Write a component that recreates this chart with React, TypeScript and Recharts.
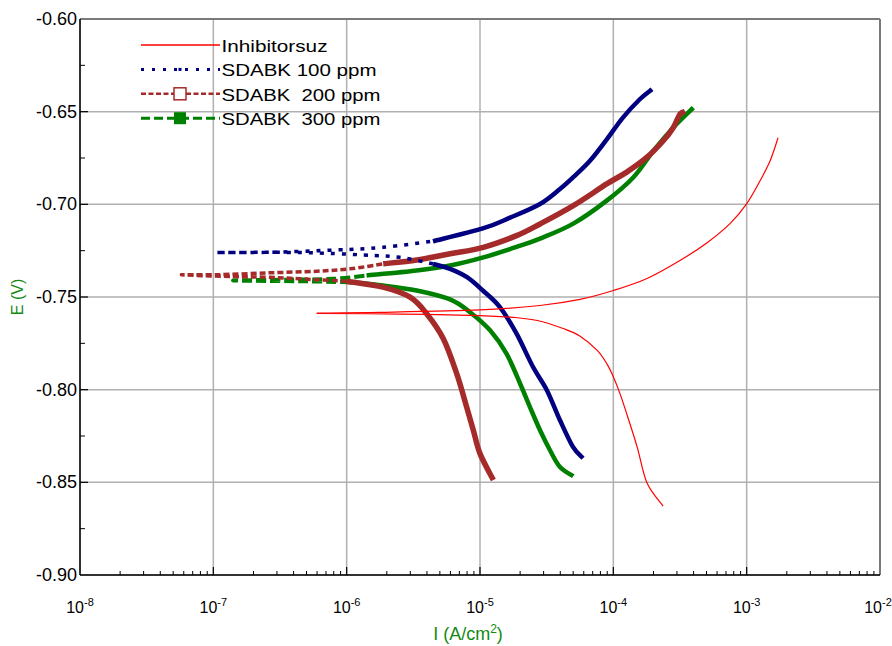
import React from 'react';
import { LineChart, Line, XAxis, YAxis, CartesianGrid, ReferenceLine, Legend } from 'recharts';

// current density (A/cm2) and potential (V), each branch starts at Ecorr
const redCathodicI = [5.96e-7, 2.51e-6, 1.0e-5, 1.78e-5, 2.69e-5, 4.2e-5, 5.6e-5, 7.6e-5, 8.97e-5, 1.0e-4, 1.12e-4, 1.27e-4, 1.51e-4, 1.79e-4, 2.36e-4];
const redCathodicE = [-0.7589, -0.7592, -0.76, -0.761, -0.7627, -0.767, -0.771, -0.7789, -0.7862, -0.793, -0.802, -0.8138, -0.831, -0.8504, -0.8628];
const redAnodicI = [5.96e-7, 1.78e-6, 1.0e-5, 2.82e-5, 5.62e-5, 1.0e-4, 1.79e-4, 3.16e-4, 5.05e-4, 7.5e-4, 9.89e-4, 1.26e-3, 1.5e-3, 1.72e-3];
const redAnodicE = [-0.7587, -0.7583, -0.757, -0.7546, -0.7513, -0.7465, -0.74, -0.7303, -0.7207, -0.7104, -0.7002, -0.6873, -0.6765, -0.6641];

const blueCathodicI = [1.05e-7, 4.47e-7, 1.33e-6, 2.51e-6, 4.44e-6, 5.96e-6, 7.99e-6, 1.05e-5, 1.41e-5, 1.88e-5, 2.5e-5, 3.18e-5, 3.98e-5, 4.98e-5, 5.92e-5];
const blueCathodicE = [-0.726, -0.726, -0.7273, -0.7286, -0.7321, -0.7348, -0.7393, -0.7465, -0.7555, -0.7698, -0.7878, -0.8004, -0.8165, -0.8309, -0.837];
const blueAnodicI = [1.05e-7, 2.53e-7, 8.46e-7, 1.87e-6, 4.44e-6, 1.05e-5, 1.68e-5, 2.82e-5, 3.98e-5, 4.98e-5, 6.68e-5, 8.96e-5, 1.18e-4, 1.58e-4, 1.95e-4];
const blueAnodicE = [-0.726, -0.7259, -0.7246, -0.7232, -0.7199, -0.713, -0.7072, -0.6998, -0.6917, -0.6855, -0.6765, -0.6648, -0.6532, -0.6433, -0.6379];

const brownCathodicI = [5.79e-8, 1.4e-7, 2.51e-7, 4.47e-7, 1.0e-6, 1.87e-6, 2.99e-6, 3.98e-6, 5.31e-6, 6.69e-6, 7.94e-6, 8.91e-6, 1.0e-5, 1.26e-5];
const brownCathodicE = [-0.738, -0.739, -0.7393, -0.7402, -0.7415, -0.7447, -0.7501, -0.759, -0.7725, -0.7914, -0.8094, -0.8219, -0.8345, -0.8488];
const brownAnodicI = [5.79e-8, 1.06e-7, 2.51e-7, 5.96e-7, 1.06e-6, 1.88e-6, 3.35e-6, 5.96e-6, 1.06e-5, 1.88e-5, 2.82e-5, 5.01e-5, 8.92e-5, 1.26e-4, 1.78e-4, 2.37e-4, 2.82e-4, 3.16e-4, 3.45e-4];
const brownAnodicE = [-0.738, -0.738, -0.737, -0.7361, -0.7348, -0.7321, -0.73, -0.7267, -0.7232, -0.7169, -0.7106, -0.7007, -0.689, -0.6826, -0.6747, -0.6657, -0.6585, -0.6513, -0.6499];

const greenCathodicI = [1.41e-7, 4.47e-7, 1.06e-6, 1.88e-6, 3.35e-6, 5.96e-6, 8.41e-6, 1.19e-5, 1.58e-5, 2.0e-5, 2.37e-5, 2.82e-5, 3.35e-5, 3.98e-5, 5.01e-5];
const greenCathodicE = [-0.7411, -0.7415, -0.742, -0.7438, -0.7465, -0.7513, -0.7582, -0.768, -0.7806, -0.7968, -0.8094, -0.8219, -0.8327, -0.8417, -0.8467];
const greenAnodicI = [1.41e-7, 3.33e-7, 7.9e-7, 1.41e-6, 3.35e-6, 5.96e-6, 1.06e-5, 1.88e-5, 2.82e-5, 5.01e-5, 8.92e-5, 1.41e-4, 2.0e-4, 2.82e-4, 3.98e-4];
const greenAnodicE = [-0.7411, -0.7407, -0.7402, -0.7384, -0.7357, -0.733, -0.7286, -0.723, -0.7185, -0.7104, -0.698, -0.6855, -0.6711, -0.6585, -0.6478];

const seriesNames = ['Inhibitorsuz', 'SDABK 100 ppm', 'SDABK  200 ppm', 'SDABK  300 ppm'];

const xTicks = [1e-8, 1e-7, 1e-6, 1e-5, 1e-4, 1e-3, 1e-2];
const yTicks = [-0.9, -0.85, -0.8, -0.75, -0.7, -0.65, -0.6];
const yMinorTicks = [-0.875, -0.825, -0.775, -0.725, -0.675, -0.625];

const FONT = '"Liberation Sans", Arial, Helvetica, sans-serif';
const LABEL_GREEN = '#138a13';

type Pt = { i: number; e: number };
const zip = (is: number[], es: number[]): Pt[] => is.map((v, k) => ({ i: v, e: es[k] }));

// near Ecorr the curves are drawn dashed, the branches solid
function split(pts: Pt[], limit: number) {
  const n = pts.filter((p) => p.i <= limit).length;
  return { core: pts.slice(0, n), tail: pts.slice(Math.max(n - 1, 0)) };
}

// catmull-rom curve factory, smooth through every point (branches run steep and flat)
function smoothCurve(context: any) {
  let pts: [number, number][] = [];
  return {
    areaStart() {},
    areaEnd() {},
    lineStart() {
      pts = [];
    },
    lineEnd() {
      if (!pts.length) return;
      context.moveTo(pts[0][0], pts[0][1]);
      for (let k = 0; k < pts.length - 1; k++) {
        const p0 = pts[Math.max(k - 1, 0)];
        const p1 = pts[k];
        const p2 = pts[k + 1];
        const p3 = pts[Math.min(k + 2, pts.length - 1)];
        context.bezierCurveTo(
          p1[0] + (p2[0] - p0[0]) / 6, p1[1] + (p2[1] - p0[1]) / 6,
          p2[0] - (p3[0] - p1[0]) / 6, p2[1] - (p3[1] - p1[1]) / 6,
          p2[0], p2[1]
        );
      }
    },
    point(x: number, y: number) {
      pts.push([x, y]);
    },
  };
}

const curves = [
  {
    name: seriesNames[0], color: '#ff0000',
    cathodic: zip(redCathodicI, redCathodicE), anodic: zip(redAnodicI, redAnodicE),
    cLimit: 0, aLimit: 0, dash: undefined, coreW: 1.2, tailW: 1.2,
    legDash: undefined, legW: 1.5, marker: 'none', textLen: 106,
  },
  {
    name: seriesNames[1], color: '#000080',
    cathodic: zip(blueCathodicI, blueCathodicE), anodic: zip(blueAnodicI, blueAnodicE),
    cLimit: 5e-6, aLimit: 4.5e-6, dash: '4 7', coreW: 3.5, tailW: 4.5,
    legDash: '3 8', legW: 3, marker: 'dot', textLen: 155,
  },
  {
    name: seriesNames[2], color: '#a52a2a',
    cathodic: zip(brownCathodicI, brownCathodicE), anodic: zip(brownAnodicI, brownAnodicE),
    cLimit: 1.0e-6, aLimit: 2.5e-6, dash: '6 3', coreW: 3.5, tailW: 5.5,
    legDash: '5 2.5', legW: 2.5, marker: 'open', textLen: 159,
  },
  {
    name: seriesNames[3], color: '#008000',
    cathodic: zip(greenCathodicI, greenCathodicE), anodic: zip(greenAnodicI, greenAnodicE),
    cLimit: 1.1e-6, aLimit: 1.5e-6, dash: '10 4', coreW: 4, tailW: 4.5,
    legDash: '9 4', legW: 3, marker: 'filled', textLen: 159,
  },
];

const XTick = (props: any) => {
  const { x, payload } = props;
  const exp = Math.round(Math.log10(payload.value));
  return (
    <text x={x} y={613} textAnchor="middle" fontSize={16} fill="#000" fontFamily={FONT}>
      <tspan>10</tspan>
      <tspan dy={-7} fontSize={11}>{exp}</tspan>
    </text>
  );
};

const YTick = (props: any) => {
  const { y, payload } = props;
  return (
    <text x={77} y={y} textAnchor="end" dominantBaseline="central" fontSize={18} fill="#000" fontFamily={FONT}>
      {payload.value.toFixed(2)}
    </text>
  );
};

const XTitle = () => (
  <text x={468} y={640} textAnchor="middle" fontSize={18} fill={LABEL_GREEN} fontFamily={FONT}>
    I (A/cm<tspan dy={-7} fontSize={12}>2</tspan>
    <tspan dy={7}>)</tspan>
  </text>
);

const YTitle = () => (
  <text x={23} y={297} transform="rotate(-90, 23, 297)" textAnchor="middle" fontSize={16} fill={LABEL_GREEN} fontFamily={FONT}>
    E (V)
  </text>
);

const LegendBox = () => (
  <svg width={262} height={104} style={{ display: 'block', overflow: 'visible' }}>
    {curves.map((c, k) => {
      const ly = 15 + k * 24.4;
      return (
        <g key={c.name}>
          <line x1={11} x2={90} y1={ly} y2={ly} stroke={c.color} strokeWidth={c.legW} strokeDasharray={c.legDash} />
          {c.marker === 'dot' && <rect x={48.5} y={ly - 1.5} width={3} height={3} fill={c.color} />}
          {c.marker === 'open' && <rect x={44} y={ly - 6} width={12} height={12} fill="#fff" stroke={c.color} strokeWidth={1.5} />}
          {c.marker === 'filled' && <rect x={44} y={ly - 6} width={12} height={12} fill={c.color} />}
          <text x={91.5} y={ly + 7} fontSize={17} fill="#000" fontFamily={FONT} textLength={c.textLen}
            lengthAdjust="spacingAndGlyphs" style={{ whiteSpace: 'pre' }}>
            {c.name}
          </text>
        </g>
      );
    })}
  </svg>
);

export default function App() {
  const xMinor: number[] = [];
  xTicks.slice(0, -1).forEach((d) => {
    for (let m = 2; m <= 9; m++) xMinor.push(d * m);
  });
  const dy4 = 4 * (0.3 / 556);
  const dy8 = 8 * (0.3 / 556);

  return (
    <div style={{ position: 'absolute', left: 0, top: 0, width: 892, height: 646, background: '#fff' }}>
      <LineChart width={892} height={646} margin={{ top: 19, right: 12, bottom: 31, left: 0 }}
        style={{ fontFamily: FONT }}>
        <CartesianGrid stroke="#b0b0b0" strokeWidth={1.5} />
        <XAxis dataKey="i" type="number" scale="log" domain={[1e-8, 1e-2]} ticks={xTicks} allowDataOverflow
          height={40} tick={<XTick />} tickLine={false} axisLine={{ stroke: '#000', strokeWidth: 1.5 }}
          label={<XTitle />} />
        <YAxis type="number" domain={[-0.9, -0.6]} ticks={yTicks} allowDataOverflow width={80}
          tick={<YTick />} tickLine={false} axisLine={{ stroke: '#000', strokeWidth: 1.5 }}
          label={<YTitle />} />
        <ReferenceLine y={-0.6} stroke="#7a7a7a" strokeWidth={2} />
        <ReferenceLine x={1e-2} stroke="#7a7a7a" strokeWidth={2} />
        {xMinor.map((v) => (
          <ReferenceLine key={'xm' + v} segment={[{ x: v, y: -0.9 }, { x: v, y: -0.9 + dy4 }]} stroke="#000" strokeWidth={1} ifOverflow="visible" />
        ))}
        {xTicks.slice(1, -1).map((v) => (
          <ReferenceLine key={'xM' + v} segment={[{ x: v, y: -0.9 }, { x: v, y: -0.9 + dy8 }]} stroke="#000" strokeWidth={1.2} ifOverflow="visible" />
        ))}
        {yMinorTicks.map((v) => (
          <ReferenceLine key={'ym' + v} segment={[{ x: 1e-8, y: v }, { x: 1e-8 * Math.pow(10, 5 / 133.33), y: v }]} stroke="#000" strokeWidth={1} ifOverflow="visible" />
        ))}
        {yTicks.slice(1, -1).map((v) => (
          <ReferenceLine key={'yM' + v} segment={[{ x: 1e-8, y: v }, { x: 1e-8 * Math.pow(10, 8 / 133.33), y: v }]} stroke="#000" strokeWidth={1.2} ifOverflow="visible" />
        ))}
        <Legend content={<LegendBox />} layout="horizontal" verticalAlign="middle" align="center"
          wrapperStyle={{ left: 130, top: 30, width: 262 }} />
        {[...curves].reverse().flatMap((c) => {
          const cat = split(c.cathodic, c.cLimit);
          const an = split(c.anodic, c.aLimit);
          const core = [...cat.core].reverse().concat(an.core.slice(1));
          const lines = [
            <Line key={c.name + 'c'} data={cat.tail} dataKey="e" type={smoothCurve as any} stroke={c.color} strokeWidth={c.tailW}
              strokeLinejoin="round" dot={false} activeDot={false} isAnimationActive={false} />,
            <Line key={c.name + 'a'} data={an.tail} dataKey="e" type={smoothCurve as any} stroke={c.color} strokeWidth={c.tailW}
              strokeLinejoin="round" dot={false} activeDot={false} isAnimationActive={false} />,
          ];
          if (core.length > 1) {
            lines.push(
              <Line key={c.name + 'core'} data={core} dataKey="e" type={smoothCurve as any} stroke={c.color} strokeWidth={c.coreW}
                strokeDasharray={c.dash} dot={false} activeDot={false} isAnimationActive={false} />
            );
          }
          return lines;
        })}
      </LineChart>
    </div>
  );
}
